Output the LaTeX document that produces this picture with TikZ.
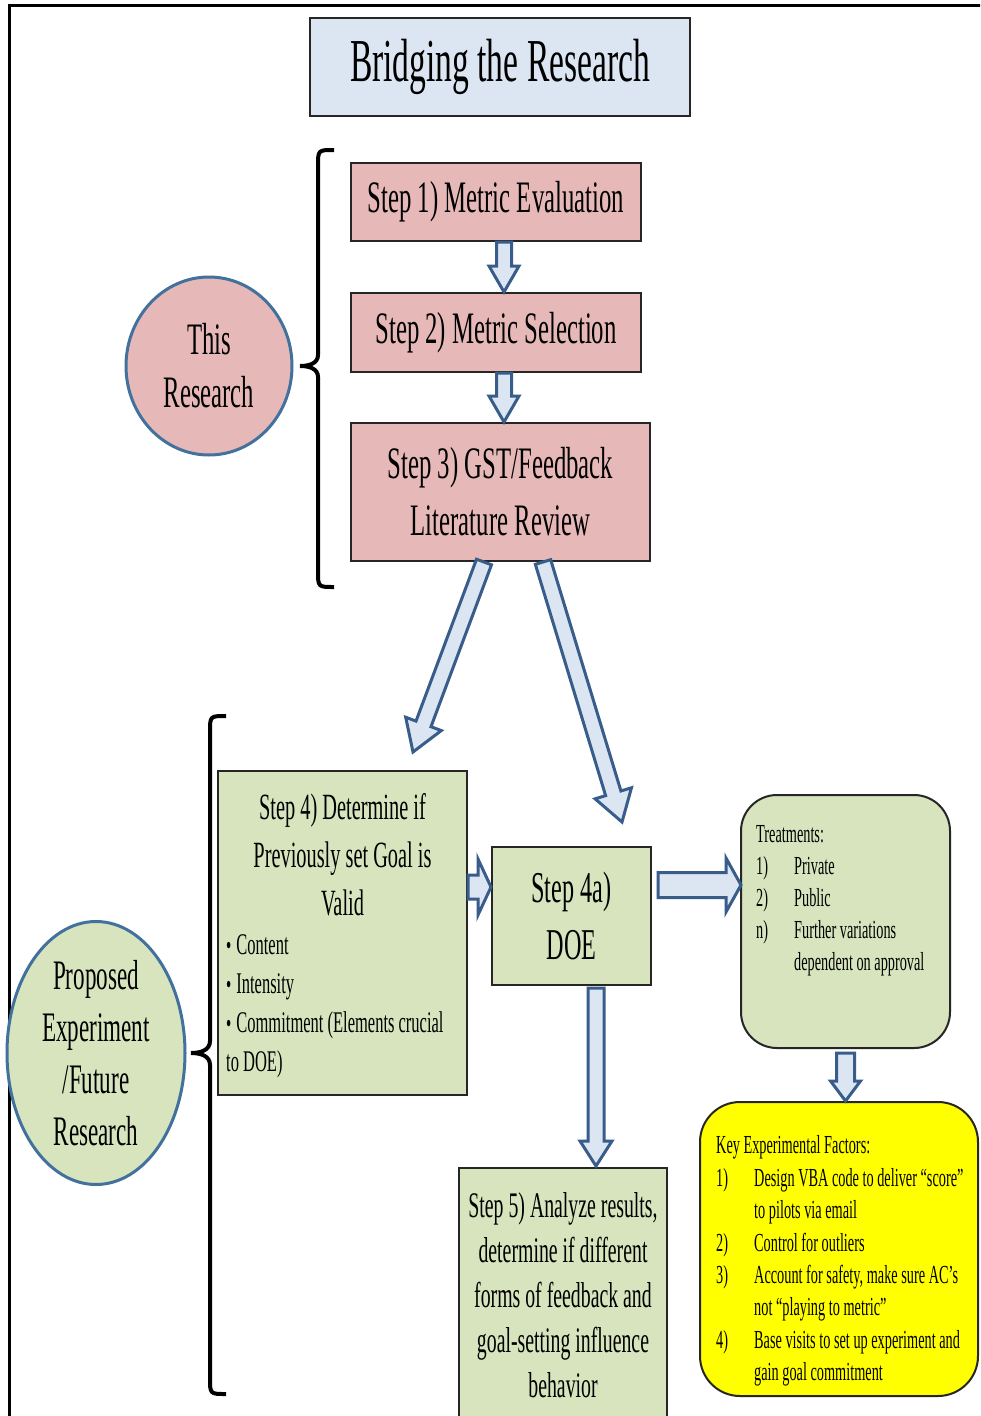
\documentclass[tikz,border=0pt]{standalone}
\usepackage{fontspec}
\setmainfont[FakeStretch=0.55]{Liberation Serif}
\usetikzlibrary{calc,shapes.geometric}
\definecolor{pinkfill}{HTML}{E6B9B8}
\definecolor{greenfill}{HTML}{D7E4BD}
\definecolor{bluefill}{HTML}{DCE6F2}
\definecolor{arrowline}{HTML}{385D8A}
\definecolor{circline}{HTML}{41719C}
\definecolor{keyfill}{HTML}{FFFF00}
\newcommand{\fsz}[2]{\fontsize{#1pt}{#2pt}\selectfont}
\newcommand{\smbul}{{\fontsize{27pt}{27pt}\selectfont\textbullet}\,}
% block arrow: from, to, shaft half width, head half width, head length
\newcommand{\blockarr}[5]{%
  \coordinate (bah) at ($(#2)!#5pt!(#1)$);
  \draw[blockarrow] ($(#1)!#3pt!90:(#2)$) -- ($(bah)!#3pt!90:(#2)$) -- ($(bah)!#4pt!90:(#2)$) -- (#2) -- ($(bah)!#4pt!-90:(#2)$) -- ($(bah)!#3pt!-90:(#2)$) -- ($(#1)!#3pt!-90:(#2)$) -- cycle;}
\begin{document}
\begin{tikzpicture}[x=1pt,y=-1pt,
  box/.style={draw=black!85, line width=2pt, inner sep=0pt, align=center},
  pinkbox/.style={box, fill=pinkfill},
  greenbox/.style={box, fill=greenfill},
  roundbox/.style={draw=black!85, line width=2pt, rounded corners=36pt},
  ellbox/.style={ellipse, draw=circline, line width=3pt, inner sep=0pt},
  blockarrow/.style={draw=arrowline, fill=bluefill, line width=3pt, line join=miter},
  bracestyle/.style={draw=black, line width=4pt},
  txt/.style={inner sep=0pt, align=center}]
\useasboundingbox (0,0) rectangle (980,1416);
\clip (0,0) rectangle (980,1416);
\fill[white] (0,0) rectangle (980,1416);
% outer frame
\draw[line width=3pt] (985,5) -- (9,5) -- (9,1420);
% title
\node[box, fill=bluefill, minimum width=380pt, minimum height=98pt, font=\fsz{61}{72}] (title) at (500,67) {Bridging the Research};
% this research
\node[pinkbox, minimum width=290pt, minimum height=78pt, font=\fsz{45}{57}] (s1) at (496,202) {Step 1) Metric Evaluation};
\node[pinkbox, minimum width=290pt, minimum height=79pt, font=\fsz{45}{57}] (s2) at (496,332.5) {Step 2) Metric Selection};
\node[pinkbox, minimum width=299pt, minimum height=138pt, font=\fsz{45}{57}] (s3) at (500.5,492) {Step 3) GST/Feedback\\Literature Review};
\node[ellbox, fill=pinkfill, minimum width=166pt, minimum height=178pt] (r1) at (209,366) {};
\node[txt, font=\fsz{45}{53}] (r1t) at (r1.center) {This\\Research};
% brace 1
\coordinate (b1top) at (334,150);
\coordinate (b1tip) at (300,366);
\coordinate (b1bot) at (334,587);
\draw[bracestyle] (b1top) .. controls (318,150) and (318,150) .. (318,166) -- (318,355) .. controls (318,363) and (310,366) .. (b1tip) .. controls (310,366) and (318,369) .. (318,377) -- (318,571) .. controls (318,587) and (318,587) .. (b1bot);
% proposed
\node[greenbox, minimum width=249pt, minimum height=324pt] (s4) at (342.5,933) {};
\node[txt, font=\fsz{37}{48}] (s4h) at ($(s4.center)+(0,-78)$) {Step 4) Determine if\\Previously set Goal is\\Valid};
\node[anchor=north west, inner sep=0pt, font=\fsz{30}{39}] (s4b) at (226,927) {\begin{tabular}{@{}l@{}}\smbul Content\\ \smbul Intensity\\ \smbul Commitment (Elements crucial\\to DOE)\end{tabular}};
\node[greenbox, minimum width=159pt, minimum height=138pt, font=\fsz{44}{57}] (doe) at (571.5,916) {Step 4a)\\DOE};
\node[roundbox, fill=greenfill, minimum width=209pt, minimum height=253pt] (treat) at (845.5,921.5) {};
\node[anchor=north west, inner sep=0pt, font=\fsz{26}{32}] (treatt) at (756,820) {\begin{tabular}{@{}p{38pt}@{}l@{}}\multicolumn{2}{@{}l@{}}{Treatments:}\\1) & Private\\2) & Public\\n) & Further variations\\ & dependent on approval\end{tabular}};
\node[roundbox, rounded corners=40pt, fill=keyfill, minimum width=278pt, minimum height=294pt] (key) at (839,1249) {};
\node[anchor=north west, inner sep=0pt, font=\fsz{26}{32.4}] (keyt) at (716,1131) {\begin{tabular}{@{}p{38pt}@{}l@{}}\multicolumn{2}{@{}l@{}}{Key Experimental Factors:}\\1) & Design VBA code to deliver “score”\\ & to pilots via email\\2) & Control for outliers\\3) & Account for safety, make sure AC’s\\ & not “playing to metric”\\4) & Base visits to set up experiment and\\ & gain goal commitment\end{tabular}};
\node[greenbox, minimum width=208pt, minimum height=254pt, font=\fsz{36}{45}] (s5) at (563,1295) {Step 5) Analyze results,\\determine if different\\forms of feedback and\\goal-setting influence\\behavior};
\node[ellbox, fill=greenfill, minimum width=178pt, minimum height=263pt] (r2) at (96,1053) {};
\node[txt, font=\fsz{42}{52}] (r2t) at (r2.center) {Proposed\\Experiment\\/Future\\Research};
% brace 2
\coordinate (b2top) at (226,716);
\coordinate (b2tip) at (191,1053);
\coordinate (b2bot) at (226,1394);
\draw[bracestyle] (b2top) .. controls (210,716) and (210,716) .. (210,732) -- (210,1041) .. controls (210,1050) and (201,1053) .. (b2tip) .. controls (201,1053) and (210,1056) .. (210,1065) -- (210,1378) .. controls (210,1394) and (210,1394) .. (b2bot);
% arrows
\coordinate (a1s) at ($(s1.south)+(8,0)$);
\coordinate (a1e) at ($(s2.north)+(8,0)$);
\blockarr{a1s}{a1e}{7.5}{15}{26}
\coordinate (a2s) at ($(s2.south)+(8,0)$);
\coordinate (a2e) at ($(s3.north)+(3.5,0)$);
\blockarr{a2s}{a2e}{7.5}{15}{26}
\coordinate (a3s) at ($(s3.south)+(-16.5,0)$);
\coordinate (a3e) at ($(s4.north)+(70.5,-18)$);
\blockarr{a3s}{a3e}{8}{19}{30}
\coordinate (a4s) at ($(s3.south)+(42.5,0)$);
\coordinate (a4e) at ($(doe.north)+(50.5,-24)$);
\blockarr{a4s}{a4e}{8}{19}{30}
\coordinate (a5s) at ($(s4.east)+(0,-46)$);
\coordinate (a5e) at ($(doe.west)+(0,-29)$);
\blockarr{a5s}{a5e}{12}{28}{13}
\coordinate (a6s) at ($(doe.east)+(6,-31)$);
\coordinate (a6e) at ($(treat.west)+(1,-36.5)$);
\blockarr{a6s}{a6e}{12.5}{27}{15}
\coordinate (a7s) at ($(treat.south)+(0,4)$);
\coordinate (a7e) at ($(key.north)+(6.5,0)$);
\blockarr{a7s}{a7e}{9}{15}{20}
\coordinate (a8s) at ($(doe.south)+(24.5,2)$);
\coordinate (a8e) at ($(s5.north)+(33,-1)$);
\blockarr{a8s}{a8e}{8}{16}{25}
\end{tikzpicture}
\end{document}
